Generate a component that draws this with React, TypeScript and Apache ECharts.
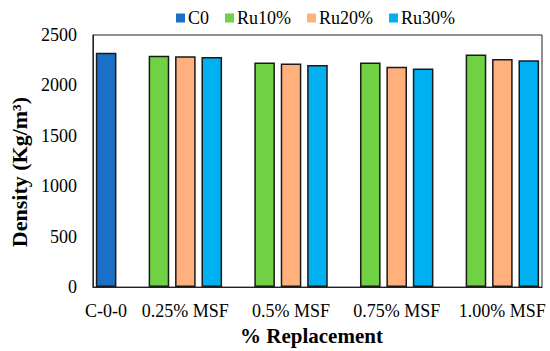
import React, { useEffect, useRef } from "react";
import * as echarts from "echarts";

const categories = ["C-0-0", "0.25% MSF", "0.5% MSF", "0.75% MSF", "1.00% MSF"];
const seriesNames = ["C0", "Ru10%", "Ru20%", "Ru30%"];
const c0Values = [2325];
const ru10Values = [2295, 2227, 2227, 2306];
const ru20Values = [2290, 2217, 2184, 2263];
const ru30Values = [2283, 2202, 2167, 2250];
const yTicks = [0, 500, 1000, 1500, 2000, 2500];
const colors = ["#1C6FC6", "#6FD143", "#FFB07C", "#00B0F0"];

const SLOTS = 17;

function buildSlots() {
  const labels: string[] = new Array(SLOTS).fill("");
  labels[0] = categories[0];
  const c0: (number | string)[] = new Array(SLOTS).fill("-");
  const r10: (number | string)[] = new Array(SLOTS).fill("-");
  const r20: (number | string)[] = new Array(SLOTS).fill("-");
  const r30: (number | string)[] = new Array(SLOTS).fill("-");
  c0[0] = c0Values[0];
  for (let k = 1; k < categories.length; k++) {
    labels[4 * k - 1] = categories[k];
    r10[4 * k - 2] = ru10Values[k - 1];
    r20[4 * k - 1] = ru20Values[k - 1];
    r30[4 * k] = ru30Values[k - 1];
  }
  return { labels, data: [c0, r10, r20, r30] };
}

export default function App() {
  const ref = useRef<HTMLDivElement>(null);
  useEffect(() => {
    if (!ref.current) return;
    const chart = echarts.init(ref.current, null, { renderer: "svg" });
    const { labels, data } = buildSlots();
    const font = "'Liberation Serif', 'Times New Roman', serif";
    chart.setOption({
      animation: false,
      textStyle: { fontFamily: font },
      grid: {
        left: 80,
        right: 8,
        top: 35,
        bottom: 63,
        show: true,
        borderColor: "#222",
        borderWidth: 1,
      },
      legend: {
        data: seriesNames,
        left: 171,
        top: 4,
        icon: "rect",
        itemWidth: 9,
        itemHeight: 9,
        itemGap: 16,
        textStyle: { fontFamily: font, fontSize: 18, color: "#000", padding: [0, 0, 0, -2] },
        itemStyle: { borderWidth: 0 },
      },
      xAxis: {
        type: "category",
        data: labels.map((_, i) => String(i)),
        name: "% Replacement",
        nameLocation: "middle",
        nameGap: 35,
        nameTextStyle: { fontFamily: font, fontSize: 21, fontWeight: "bold", color: "#000", padding: [0, 12, 0, 0] },
        axisLine: { show: true, lineStyle: { color: "#222", width: 1 } },
        axisTick: { show: false },
        axisLabel: {
          interval: 0,
          margin: 15,
          fontSize: 18,
          color: "#000",
          fontFamily: font,
          formatter: (_v: string, i: number) => labels[i],
        },
      },
      yAxis: {
        type: "value",
        min: yTicks[0],
        max: yTicks[yTicks.length - 1],
        interval: yTicks[1] - yTicks[0],
        name: "Density (Kg/m³)",
        nameLocation: "middle",
        nameGap: 61,
        nameTextStyle: { fontFamily: font, fontSize: 22, fontWeight: "bold", color: "#000", padding: [0, 22, 0, 0] },
        axisLine: { show: true, lineStyle: { color: "#222", width: 1 } },
        axisTick: { show: false },
        splitLine: { show: false },
        axisLabel: { margin: 16, fontSize: 18, color: "#000", fontFamily: font, formatter: (v: number) => String(v) },
      },
      series: seriesNames.map((name, s) => ({
        name,
        type: "bar",
        data: data[s],
        barWidth: "78%",
        barGap: "-100%",
        itemStyle: { color: colors[s], borderColor: "#1a1a1a", borderWidth: 1.5 },
      })),
    });
    return () => chart.dispose();
  }, []);
  return <div ref={ref} style={{ position: "absolute", left: 0, top: 0, width: 550, height: 351 }} />;
}
